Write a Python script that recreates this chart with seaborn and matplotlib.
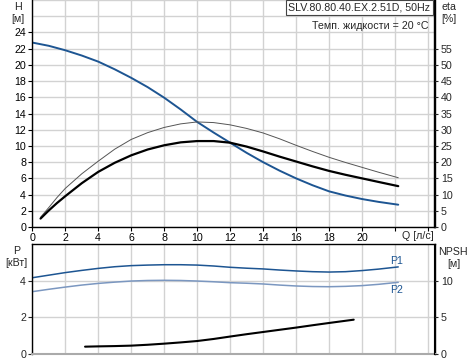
import numpy as np
import pandas as pd
import matplotlib
matplotlib.use("Agg")
import matplotlib.pyplot as plt
from matplotlib.ticker import FixedLocator
import seaborn as sns

# ---------------- data ----------------
q_h = [0, 1, 2, 3, 4, 5, 6, 7, 8, 9, 10, 11, 12, 13, 14, 15, 16, 17, 18, 19, 20, 21, 22.2]
h_vals = [22.75, 22.35, 21.8, 21.15, 20.4, 19.45, 18.4, 17.25, 15.95, 14.5, 12.96, 11.65,
          10.4, 9.15, 8.0, 6.95, 6.0, 5.15, 4.4, 3.88, 3.45, 3.1, 2.75]

q_eta = [0.5, 1, 1.5, 2, 3, 4, 5, 6, 7, 8, 9, 10, 11, 12, 13, 14, 15, 16, 17, 18, 19, 20, 21, 22.2]
eta_vals = [2.6, 5.1, 7.4, 9.5, 13.5, 17.0, 19.8, 22.1, 23.9, 25.2, 26.1, 26.5, 26.5, 26.0,
            24.8, 23.3, 21.7, 20.2, 18.7, 17.3, 16.1, 15.0, 13.9, 12.6]

q_eta2 = [0.5, 1, 1.5, 2, 3, 4, 5, 6, 7, 8, 9, 10, 11, 12, 13, 14, 15, 16, 17, 18, 19, 20, 21, 22.2]
eta2_vals = [3.0, 6.0, 9.1, 11.9, 16.4, 20.3, 24.0, 27.0, 29.1, 30.7, 31.8, 32.4, 32.2, 31.5,
             30.4, 29.0, 27.2, 25.2, 23.3, 21.5, 19.9, 18.4, 16.9, 15.2]

q_p = [0, 1, 2, 3, 4, 5, 6, 7, 8, 9, 10, 11, 12, 13, 14, 15, 16, 17, 18, 19, 20, 21, 22.2]
p1_vals = [4.16, 4.30, 4.44, 4.56, 4.67, 4.76, 4.82, 4.85, 4.87, 4.87, 4.85, 4.80, 4.73,
           4.68, 4.64, 4.58, 4.53, 4.49, 4.47, 4.49, 4.55, 4.63, 4.75]
p2_vals = [3.40, 3.53, 3.65, 3.76, 3.85, 3.92, 3.98, 4.01, 4.02, 4.01, 3.98, 3.94, 3.89,
           3.86, 3.82, 3.76, 3.71, 3.68, 3.67, 3.69, 3.73, 3.80, 3.91]

q_npsh = [3.2, 4, 5, 6, 7, 8, 9, 10, 11, 12, 13, 14, 15, 16, 17, 18, 19.5]
npsh_vals = [1.0, 1.04, 1.08, 1.14, 1.26, 1.41, 1.58, 1.77, 2.05, 2.38, 2.7, 3.0, 3.3,
             3.6, 3.92, 4.23, 4.68]

x_labels = ["0", "2", "4", "6", "8", "10", "12", "14", "16", "18", "20", "", ""]
title_text = "SLV.80.80.40.EX.2.51D, 50Hz"
temp_text = "Темп. жидкости = 20 °C"

# ---------------- style ----------------
sns.set_style("white")
plt.rcParams["font.family"] = ["Liberation Sans", "DejaVu Sans"]
FS = 7.7
BLUE = "#1d5592"
BLUE2 = "#7b97c0"
GRID = "#d2d2d2"

W, H = 474, 362
fig = plt.figure(figsize=(W / 100, H / 100), dpi=100)


def fx(x):
    return x / W


def fy(y):
    return 1 - y / H


L, R = 32.3, 434.5
ax = fig.add_axes([fx(L), fy(227), fx(R) - fx(L), fy(0) - fy(227)])
axb = fig.add_axes([fx(L), fy(354), fx(R) - fx(L), fy(244) - fy(354)])

# ---------------- top chart ----------------
df_h = pd.DataFrame({"Q": q_h, "H": h_vals})
sns.lineplot(data=df_h, x="Q", y="H", ax=ax, color=BLUE, lw=1.4, estimator=None, sort=False)
ax.set_xlim(0, 24.4)
ax.set_ylim(0, 28)
ax.xaxis.set_major_locator(FixedLocator(np.arange(0, 25, 2)))
ax.set_xticklabels(x_labels)
ax.yaxis.set_major_locator(FixedLocator(np.arange(0, 25, 2)))
ax.yaxis.set_minor_locator(FixedLocator([26, 28]))
ax.grid(True, which="both", color=GRID, lw=1.0)
ax.set_axisbelow(True)
ax.set_xlabel("")
ax.set_ylabel("")
ax.tick_params(axis="both", which="major", labelsize=FS, length=3, width=0.8,
               direction="out", colors="black", pad=1.5)
ax.tick_params(axis="y", which="minor", length=0)
ax.tick_params(axis="y", left=True)
ax.tick_params(axis="x", bottom=True)
for s in ["left", "bottom", "right"]:
    ax.spines[s].set_color("black")
    ax.spines[s].set_linewidth(1.0)
ax.spines["top"].set_visible(False)

axr = ax.twinx()
df_e = pd.DataFrame({"Q": q_eta, "eta": eta_vals})
df_e2 = pd.DataFrame({"Q": q_eta2, "eta": eta2_vals})
sns.lineplot(data=df_e2, x="Q", y="eta", ax=axr, color="#555555", lw=0.7, estimator=None, sort=False)
sns.lineplot(data=df_e, x="Q", y="eta", ax=axr, color="black", lw=1.6, estimator=None, sort=False)
axr.set_ylim(0, 70)
axr.yaxis.set_major_locator(FixedLocator(np.arange(0, 56, 5)))
axr.set_ylabel("")
axr.tick_params(axis="y", labelsize=FS, length=3, width=0.8, direction="out", pad=1.5, right=True)
axr.spines["right"].set_color("black")
axr.spines["right"].set_linewidth(1.0)
axr.spines["top"].set_visible(False)
axr.spines["left"].set_visible(False)
axr.spines["bottom"].set_visible(False)
axr.grid(False)
axr.set_zorder(ax.get_zorder() + 1)
axr.patch.set_visible(False)

# ---------------- bottom chart ----------------
df_p = pd.DataFrame({"Q": q_p + q_p,
                     "P": p1_vals + p2_vals,
                     "curve": ["P1"] * len(q_p) + ["P2"] * len(q_p)})
sns.lineplot(data=df_p, x="Q", y="P", hue="curve", palette={"P1": BLUE, "P2": BLUE2},
             ax=axb, lw=1.1, estimator=None, sort=False, legend=False)
axb.set_xlim(0, 24.4)
axb.set_ylim(0, 6)
axb.xaxis.set_major_locator(FixedLocator(np.arange(0, 25, 2)))
axb.set_xticklabels([])
axb.yaxis.set_major_locator(FixedLocator([0, 2, 4]))
axb.grid(True, color=GRID, lw=1.0)
axb.set_axisbelow(True)
axb.set_xlabel("")
axb.set_ylabel("")
axb.tick_params(axis="x", length=0)
axb.tick_params(axis="y", labelsize=FS, length=3, width=0.8, direction="out", pad=1.5, left=True)
for s in ["left", "top", "right"]:
    axb.spines[s].set_color("black")
    axb.spines[s].set_linewidth(1.0)
axb.spines["bottom"].set_color("#aaaaaa")
axb.spines["bottom"].set_linewidth(1.5)

axbr = axb.twinx()
df_n = pd.DataFrame({"Q": q_npsh, "NPSH": npsh_vals})
sns.lineplot(data=df_n, x="Q", y="NPSH", ax=axbr, color="black", lw=1.5, estimator=None, sort=False)
axbr.set_ylim(0, 15)
axbr.yaxis.set_major_locator(FixedLocator([0, 5, 10]))
axbr.set_ylabel("")
axbr.tick_params(axis="y", labelsize=FS, length=3, width=0.8, direction="out", pad=1.5, right=True)
for s in ["left", "top", "bottom"]:
    axbr.spines[s].set_visible(False)
axbr.spines["right"].set_color("black")
axbr.grid(False)

# ---------------- texts ----------------
fig.text(fx(430.5), fy(2.5), title_text, ha="right", va="top", fontsize=FS,
         bbox=dict(boxstyle="square,pad=0.22", fc="white", ec="#444444", lw=0.8))
fig.text(fx(428), fy(26), temp_text, ha="right", va="center", fontsize=FS)

fig.text(fx(18), fy(7), "H", ha="center", va="center", fontsize=FS)
fig.text(fx(18), fy(19), "[м]", ha="center", va="center", fontsize=FS)
fig.text(fx(441), fy(7), "eta", ha="left", va="center", fontsize=FS)
fig.text(fx(441), fy(19), "[%]", ha="left", va="center", fontsize=FS)
fig.text(fx(418), fy(236), "Q [л/с]", ha="center", va="center", fontsize=FS)

fig.text(fx(17), fy(251), "P", ha="center", va="center", fontsize=FS)
fig.text(fx(16), fy(263), "[кВт]", ha="center", va="center", fontsize=FS)
fig.text(fx(453), fy(252), "NPSH", ha="center", va="center", fontsize=FS)
fig.text(fx(454), fy(264), "[м]", ha="center", va="center", fontsize=FS)

fig.text(fx(397), fy(261), "P1", ha="center", va="center", fontsize=FS, color=BLUE)
fig.text(fx(397), fy(290), "P2", ha="center", va="center", fontsize=FS, color=BLUE)

fig.savefig("out.png", dpi=100)
